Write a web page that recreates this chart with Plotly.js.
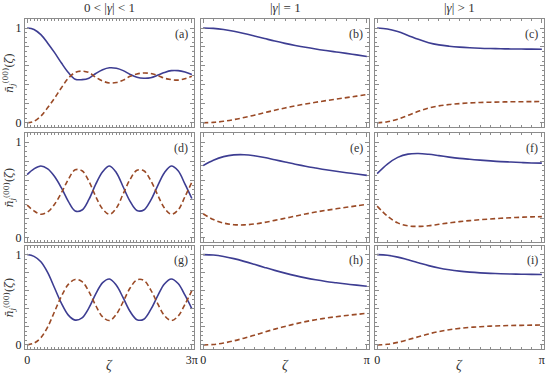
<!DOCTYPE html>
<html><head><meta charset="utf-8">
<script src="https://cdn.plot.ly/plotly-3.0.1.min.js"></script>
<style>html,body{margin:0;padding:0;background:#fff}#plot{width:550px;height:381px}</style>
</head><body><div id="plot"></div>
<script>
// zeta samples
const zetaLong = [0, 0.3927, 0.7854, 1.1781, 1.5708, 1.9635, 2.3562, 2.7489, 3.1416, 3.5343, 3.9270, 4.3197, 4.7124, 5.1051, 5.4978, 5.8905, 6.2832, 6.6759, 7.0686, 7.4613, 7.8540, 8.2467, 8.6394, 9.0321, 9.4248];
const zetaShort = [0, 0.1963, 0.3927, 0.5890, 0.7854, 0.9817, 1.1781, 1.3744, 1.5708, 1.7671, 1.9635, 2.1598, 2.3562, 2.5525, 2.7489, 2.9452, 3.1416];

// panel (a)
const aSolid = [1.00, 0.985, 0.93, 0.84, 0.74, 0.63, 0.53, 0.46, 0.455, 0.47, 0.52, 0.56, 0.58, 0.575, 0.55, 0.51, 0.48, 0.47, 0.475, 0.50, 0.53, 0.55, 0.55, 0.535, 0.51];
const aDashed = [0.00, 0.015, 0.07, 0.16, 0.26, 0.37, 0.47, 0.53, 0.545, 0.53, 0.48, 0.44, 0.42, 0.425, 0.45, 0.49, 0.515, 0.525, 0.52, 0.50, 0.47, 0.455, 0.45, 0.465, 0.49];
// panel (b)
const bSolid = [1.000, 0.996, 0.984, 0.965, 0.942, 0.916, 0.889, 0.862, 0.838, 0.816, 0.796, 0.778, 0.762, 0.747, 0.732, 0.716, 0.700];
const bDashed = [0.000, 0.004, 0.015, 0.033, 0.055, 0.080, 0.106, 0.132, 0.156, 0.178, 0.198, 0.216, 0.233, 0.249, 0.265, 0.281, 0.297];
// panel (c)
const cSolid = [1.000, 0.990, 0.962, 0.922, 0.880, 0.845, 0.822, 0.808, 0.798, 0.791, 0.786, 0.783, 0.781, 0.779, 0.778, 0.777, 0.776];
const cDashed = [0.000, 0.010, 0.038, 0.078, 0.120, 0.155, 0.178, 0.192, 0.202, 0.209, 0.214, 0.217, 0.219, 0.221, 0.222, 0.223, 0.224];
// panel (d)
const dSolid = [0.66, 0.72, 0.75, 0.72, 0.64, 0.52, 0.38, 0.28, 0.29, 0.40, 0.56, 0.69, 0.75, 0.68, 0.53, 0.38, 0.285, 0.29, 0.39, 0.54, 0.68, 0.75, 0.70, 0.56, 0.41];
const dDashed = [0.34, 0.28, 0.245, 0.27, 0.35, 0.47, 0.61, 0.71, 0.70, 0.59, 0.43, 0.30, 0.245, 0.31, 0.46, 0.61, 0.705, 0.70, 0.60, 0.45, 0.31, 0.245, 0.29, 0.43, 0.58];
// panel (e)
const eSolid = [0.754, 0.810, 0.848, 0.866, 0.868, 0.857, 0.838, 0.815, 0.792, 0.769, 0.748, 0.729, 0.711, 0.695, 0.680, 0.666, 0.652];
const eDashed = [0.250, 0.190, 0.153, 0.136, 0.134, 0.143, 0.160, 0.181, 0.203, 0.226, 0.248, 0.268, 0.286, 0.302, 0.318, 0.333, 0.348];
// panel (f)
const fSolid = [0.670, 0.770, 0.840, 0.874, 0.880, 0.872, 0.858, 0.843, 0.830, 0.820, 0.811, 0.803, 0.796, 0.791, 0.786, 0.782, 0.780];
const fDashed = [0.330, 0.225, 0.155, 0.124, 0.118, 0.125, 0.140, 0.155, 0.168, 0.179, 0.188, 0.196, 0.203, 0.209, 0.214, 0.218, 0.220];
// panel (g)
const gSolid = [1.00, 0.98, 0.92, 0.80, 0.63, 0.46, 0.33, 0.275, 0.30, 0.41, 0.565, 0.69, 0.73, 0.66, 0.52, 0.37, 0.28, 0.285, 0.39, 0.54, 0.675, 0.73, 0.68, 0.55, 0.40];
const gDashed = [0.00, 0.02, 0.08, 0.20, 0.37, 0.54, 0.67, 0.725, 0.70, 0.59, 0.435, 0.31, 0.27, 0.34, 0.48, 0.63, 0.72, 0.715, 0.61, 0.46, 0.325, 0.27, 0.32, 0.45, 0.60];
// panel (h)
const hSolid = [1.000, 0.995, 0.979, 0.955, 0.925, 0.892, 0.858, 0.825, 0.795, 0.767, 0.742, 0.721, 0.703, 0.688, 0.674, 0.662, 0.650];
const hDashed = [0.000, 0.005, 0.021, 0.045, 0.075, 0.108, 0.142, 0.175, 0.205, 0.233, 0.258, 0.279, 0.297, 0.312, 0.326, 0.338, 0.350];
// panel (i)
const iSolid = [1.000, 0.993, 0.972, 0.942, 0.910, 0.878, 0.852, 0.832, 0.817, 0.806, 0.798, 0.792, 0.788, 0.785, 0.783, 0.781, 0.780];
const iDashed = [0.000, 0.007, 0.028, 0.058, 0.090, 0.122, 0.148, 0.168, 0.183, 0.194, 0.202, 0.208, 0.212, 0.215, 0.217, 0.219, 0.220];

const panelLabels = ['(a)', '(b)', '(c)', '(d)', '(e)', '(f)', '(g)', '(h)', '(i)'];
const columnTitles = ['0 &lt; |<i>γ</i>| &lt; 1', '|<i>γ</i>| = 1', '|<i>γ</i>| &gt; 1'];
const yTickText = ['0', '1'];
const xTickTextLong = ['0', '3π'];
const xTickTextShort = ['0', 'π'];

const panels = [
  [zetaLong, aSolid, aDashed], [zetaShort, bSolid, bDashed], [zetaShort, cSolid, cDashed],
  [zetaLong, dSolid, dDashed], [zetaShort, eSolid, eDashed], [zetaShort, fSolid, fDashed],
  [zetaLong, gSolid, gDashed], [zetaShort, hSolid, hDashed], [zetaShort, iSolid, iDashed]
];

const W = 550, H = 381;
const M = {l: 25, r: 6, t: 19, b: 32};
const PW = W - M.l - M.r, PH = H - M.t - M.b;
const colPx = [[25, 194], [201, 369], [375, 544]];
const rowPx = [[19, 127], [133, 242], [246, 349]];
const colDom = colPx.map(c => [(c[0] - M.l) / PW, (c[1] - M.l) / PW]);
const rowDom = rowPx.map(r => [(H - M.b - r[1]) / PH, (H - M.b - r[0]) / PH]);

const PI = Math.PI;
const frameColor = '#8c8c8c';
const serif = '"Liberation Serif", "Times New Roman", serif';
const dvSerif = '"DejaVu Serif", serif';
const blue = '#3d3d92';
const brown = '#9a4a26';

const data = [];
const layout = {
  width: W, height: H, margin: M, showlegend: false,
  paper_bgcolor: '#fff', plot_bgcolor: '#fff',
  font: {family: serif, size: 12, color: '#333'},
  annotations: []
};

for (let r = 0; r < 3; r++) {
  for (let c = 0; c < 3; c++) {
    const i = r * 3 + c;
    const n = i + 1;
    const xa = n === 1 ? 'x' : 'x' + n;
    const ya = n === 1 ? 'y' : 'y' + n;
    const p = panels[i];
    data.push({x: p[0], y: p[1], xaxis: xa, yaxis: ya, type: 'scatter', mode: 'lines',
      line: {color: blue, width: 1.6, shape: 'spline', smoothing: 1}});
    data.push({x: p[0], y: p[2], xaxis: xa, yaxis: ya, type: 'scatter', mode: 'lines',
      line: {color: brown, width: 1.6, dash: '5px,3px', shape: 'spline', smoothing: 1}});
    const long = c === 0;
    const xmax = long ? 3 * PI : PI;
    const pad = xmax * 0.013;
    const majorX = [], minorX = [];
    const step = PI / 4;
    for (let k = 0; k * step <= xmax + 1e-9; k++) majorX.push(k * step);
    for (let k = 0; k * step / 4 <= xmax + 1e-9; k++) minorX.push(k * step / 4);
    const xTT = majorX.map((v, j) => j === 0 ? (long ? xTickTextLong[0] : xTickTextShort[0]) : (j === majorX.length - 1 ? (long ? xTickTextLong[1] : xTickTextShort[1]) : ''));
    const axBase = {showgrid: false, zeroline: false, showline: true, linecolor: frameColor, linewidth: 1,
      mirror: 'ticks', ticks: 'inside', ticklen: 4, tickcolor: frameColor, tickwidth: 1,
      tickfont: {family: serif, size: 12, color: '#222'}, fixedrange: true};
    layout['xaxis' + (n === 1 ? '' : n)] = Object.assign({}, axBase, {
      domain: colDom[c], anchor: ya, range: [-pad, xmax + pad],
      tickmode: 'array', tickvals: majorX, ticktext: xTT, showticklabels: r === 2,
      minor: {tickmode: 'array', tickvals: minorX, ticks: 'inside', ticklen: 2, tickcolor: frameColor}
    });
    layout['yaxis' + (n === 1 ? '' : n)] = Object.assign({}, axBase, {
      domain: rowDom[r], anchor: xa, range: [-0.045, 1.095],
      tickmode: 'array', tickvals: [0, 0.2, 0.4, 0.6, 0.8, 1], ticktext: [yTickText[0], '', '', '', '', yTickText[1]],
      showticklabels: c === 0,
      minor: {tickmode: 'array', tickvals: [0.05,0.1,0.15,0.25,0.3,0.35,0.45,0.5,0.55,0.65,0.7,0.75,0.85,0.9,0.95], ticks: 'inside', ticklen: 2, tickcolor: frameColor}
    });
    layout.annotations.push({text: panelLabels[i], xref: xa + ' domain', yref: ya + ' domain',
      x: 0.975, y: 0.86, xanchor: 'right', yanchor: 'middle', showarrow: false,
      font: {family: serif, size: 12, color: '#333'}});
  }
}
for (let c = 0; c < 3; c++) {
  layout.annotations.push({text: columnTitles[c], xref: 'paper', yref: 'paper',
    x: (colDom[c][0] + colDom[c][1]) / 2, y: (H - M.b - 8) / PH, xanchor: 'center', yanchor: 'middle',
    showarrow: false, font: {family: serif, size: 13, color: '#333'}});
  layout.annotations.push({text: '<i>ζ</i>', xref: 'paper', yref: 'paper',
    x: (colDom[c][0] + colDom[c][1]) / 2, y: (H - M.b - 365) / PH, xanchor: 'center', yanchor: 'middle',
    showarrow: false, font: {family: serif, size: 14, color: '#333'}});
}
for (let r = 0; r < 3; r++) {
  layout.annotations.push({text: '<i>n̄</i><sub><i>j</i></sub><sup>(00)</sup>(<i>ζ</i>)', xref: 'paper', yref: 'paper',
    x: (9 - M.l) / PW, y: (rowDom[r][0] + rowDom[r][1]) / 2, xanchor: 'center', yanchor: 'middle', textangle: -90,
    showarrow: false, font: {family: dvSerif, size: 11, color: '#333'}});
}
Plotly.newPlot('plot', data, layout, {displayModeBar: false, staticPlot: true});
</script></body></html>
